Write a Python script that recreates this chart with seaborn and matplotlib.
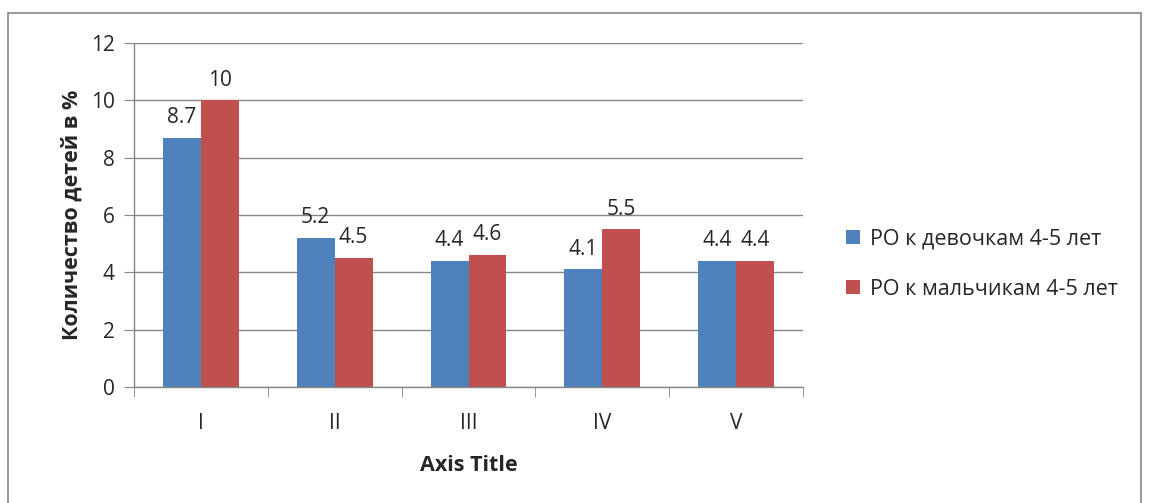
import pandas as pd
import matplotlib.pyplot as plt
import seaborn as sns
from matplotlib.patches import Rectangle
from matplotlib.ticker import FixedLocator

categories = ['I', 'II', 'III', 'IV', 'V']
girls = [8.7, 5.2, 4.4, 4.1, 4.4]
boys = [10, 4.5, 4.6, 5.5, 4.4]
series_names = ['РО к девочкам 4-5 лет', 'РО к мальчикам 4-5 лет']
colors = ['#4F81BD', '#C0504D']

df = pd.DataFrame({
    'cat': categories * 2,
    'value': girls + boys,
    'series': [series_names[0]] * 5 + [series_names[1]] * 5,
})

sns.set_style('white')
plt.rcParams['font.family'] = ['Open Sans', 'DejaVu Sans']

fig = plt.figure(figsize=(11.49, 5.03), dpi=100)
ax = fig.add_axes([0.1166, 0.2306, 0.5823, 0.6839])

sns.barplot(data=df, x='cat', y='value', hue='series', palette=colors,
            width=0.567, ax=ax, saturation=1, edgecolor='none')

ax.set_ylim(0, 12)
ax.set_xlim(-0.5, 4.5)
ax.set_yticks(range(0, 13, 2))
ax.yaxis.grid(True, color='#868686', linewidth=1)
ax.set_axisbelow(True)
for s in ['top', 'right']:
    ax.spines[s].set_visible(False)
for s in ['left', 'bottom']:
    ax.spines[s].set_color('#868686')
    ax.spines[s].set_linewidth(1)

ax.tick_params(axis='y', which='major', left=True, length=7, color='#868686',
               labelsize=15, pad=7)
ax.tick_params(axis='x', which='major', bottom=False, labelsize=15, pad=15)
ax.xaxis.set_minor_locator(FixedLocator([i - 0.5 for i in range(6)]))
ax.tick_params(axis='x', which='minor', bottom=True, length=7, color='#868686')

for cont in ax.containers:
    ax.bar_label(cont, labels=[f'{v:g}' for v in cont.datavalues],
                 fontsize=15, padding=7)

ax.set_xlabel('Axis Title', fontsize=15.5, fontweight='bold', labelpad=15)
ax.set_ylabel('Количество детей в %', fontsize=15.5, fontweight='bold', labelpad=6)

ax.legend(loc='center left', bbox_to_anchor=(1.035, 0.357), frameon=False,
          fontsize=15.5, handlelength=0.65, handleheight=0.65, handletextpad=0.45,
          labelspacing=1.35)

fig.patches.append(Rectangle((8 / 1149, -0.1), 1133 / 1149, 1 - 13 / 503 + 0.1,
                             transform=fig.transFigure, fill=False,
                             edgecolor='#868686', linewidth=1.2))

fig.savefig('out.png', dpi=100)
